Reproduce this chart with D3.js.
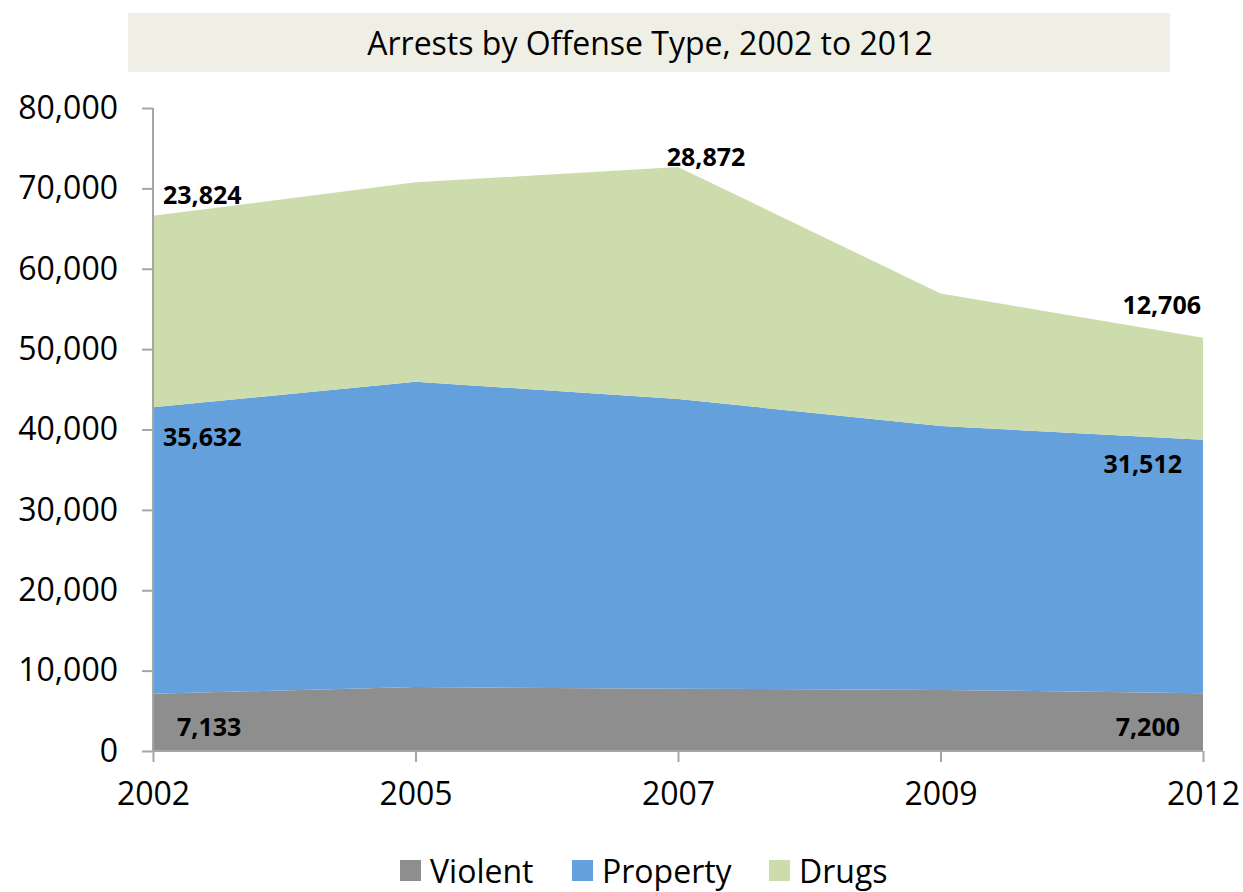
<!DOCTYPE html>
<html>
<head>
<meta charset="utf-8">
<script src="https://cdn.jsdelivr.net/npm/d3@7"></script>
<style>
  html, body { margin: 0; padding: 0; background: #fff; }
  svg { display: block; font-family: "Open Sans", "Noto Sans", sans-serif; }
</style>
</head>
<body>
<svg id="chart" width="1243" height="892"></svg>
<script>
// Arrests by offense type, stacked
const years = ["2002", "2005", "2007", "2009", "2012"];
const violent  = [7133, 7950, 7750, 7600, 7200];
const property = [35632, 38000, 36050, 32830, 31512];
const drugs    = [23824, 24800, 28872, 16500, 12706];
const seriesNames = ["Violent", "Property", "Drugs"];
const seriesColors = ["#8E8E8E", "#64A0DC", "#CDDCAC"];
const yTicks = [0, 10000, 20000, 30000, 40000, 50000, 60000, 70000, 80000];
const title = "Arrests by Offense Type, 2002 to 2012";

// labelled points: [series, year index, anchor]
const labelled = [
  ["Drugs", 0, "start"], ["Drugs", 2, "middle"], ["Drugs", 4, "end"],
  ["Property", 0, "start"], ["Property", 4, "end"],
  ["Violent", 0, "start"], ["Violent", 4, "end"]
];

const rows = years.map((y, i) => ({ year: y, Violent: violent[i], Property: property[i], Drugs: drugs[i] }));
const stacked = d3.stack().keys(seriesNames)(rows);

const svg = d3.select("#chart");
const x = d3.scalePoint().domain(years).range([153, 1203]);
const y = d3.scaleLinear().domain([0, 80000]).range([751, 108]);
const axisColor = "#A6A6A6";

// title band
svg.append("rect").attr("x", 128).attr("y", 13).attr("width", 1042).attr("height", 59).attr("fill", "#EFEFE6");
svg.append("text").attr("x", 650).attr("y", 55).attr("text-anchor", "middle")
  .attr("font-size", 32).attr("fill", "#000").text(title);

// stacked areas
const area = d3.area().x(d => x(d.data.year)).y0(d => y(d[0])).y1(d => y(d[1]));
svg.append("g").selectAll("path").data(stacked).join("path")
  .attr("d", area)
  .attr("fill", (d, i) => seriesColors[i]);

// y axis
const yAxis = svg.append("g").attr("transform", "translate(153,0)")
  .call(d3.axisLeft(y).tickValues(yTicks).tickSize(11).tickPadding(24).tickFormat(d3.format(",")));
yAxis.selectAll("path, line").attr("stroke", axisColor).attr("stroke-width", 2);
yAxis.select(".domain").attr("d", "M0,108V751");
yAxis.selectAll("text").attr("font-size", 32).attr("fill", "#000")
  .attr("font-family", "'Open Sans', sans-serif");

// x axis
const xAxis = svg.append("g").attr("transform", "translate(0,751)")
  .call(d3.axisBottom(x).tickSize(11).tickPadding(20));
xAxis.selectAll("path, line").attr("stroke", axisColor).attr("stroke-width", 2);
xAxis.select(".domain").attr("d", "M153,0H1203");
xAxis.selectAll("text").attr("font-size", 32).attr("fill", "#000")
  .attr("font-family", "'Open Sans', sans-serif");

// value labels
const labelOffset = {
  "Drugs-0": [10, -21], "Drugs-2": [28, -10], "Drugs-4": [-2, -32],
  "Property-0": [10, 30], "Property-4": [-21, 24],
  "Violent-0": [24, 0], "Violent-4": [-23, 0]
};
const labelG = svg.append("g").attr("font-weight", "bold").attr("font-size", 25).attr("fill", "#000");
labelled.forEach(([name, i, anchor]) => {
  const s = stacked[seriesNames.indexOf(name)][i];
  const off = labelOffset[name + "-" + i];
  let ty;
  if (name === "Violent") ty = y(s[0]) - 24;
  else ty = y(s[1]) + off[1];
  labelG.append("text")
    .attr("x", x(years[i]) + off[0])
    .attr("y", ty)
    .attr("dy", "0.35em")
    .attr("text-anchor", anchor)
    .text(d3.format(",")(s[1] - s[0]));
});

// legend
const legendX = [400, 572, 769];
const legend = svg.append("g");
seriesNames.forEach((n, i) => {
  legend.append("rect").attr("x", legendX[i]).attr("y", 860).attr("width", 21).attr("height", 21)
    .attr("fill", seriesColors[i]);
  legend.append("text").attr("x", legendX[i] + 30).attr("y", 883)
    .attr("font-size", 32).attr("fill", "#000").text(n);
});
</script>
</body>
</html>
